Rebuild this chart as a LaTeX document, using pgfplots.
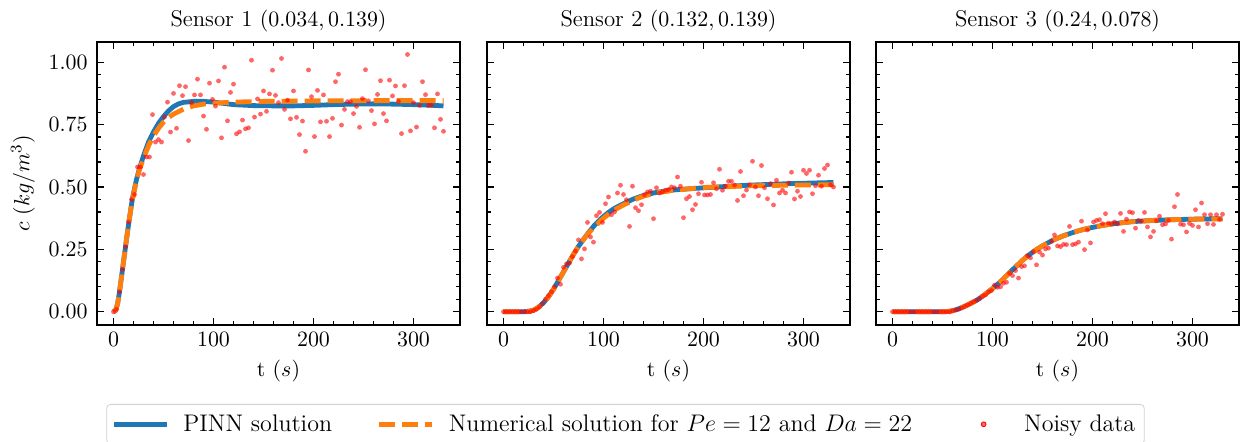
\documentclass[border=0pt]{standalone}
\usepackage{pgfplots}
\pgfplotsset{compat=1.18}
\usepackage{pgfplotstable}
\definecolor{mblue}{HTML}{1F77B4}
\definecolor{morange}{HTML}{FF7F0E}

\pgfplotstableread{
t c1 c2 c3
0 0 0 0
3 0.01 0 0
6 0.08 0 0
9 0.17 0 0
12 0.26 0 0
15 0.36 0 0
18 0.45 0 0
21 0.47 0 0
24 0.58 0 0
27 0.58 0 0
30 0.55 0.005 0
33 0.62 0.01 0
36 0.62 0.02 0
39 0.79 0.033 0
42 0.68 0.05 0
45 0.69 0.065 0
48 0.68 0.08 0
51 0.78 0.1 0
54 0.84 0.135 0
57 0.72 0.11 0
60 0.875 0.178 0.004
63 0.735 0.192 0.007
66 0.906 0.195 0.01
69 0.866 0.221 0.015
72 0.902 0.243 0.021
75 0.686 0.288 0.027
78 0.838 0.212 0.033
81 0.869 0.252 0.04
84 0.932 0.358 0.046
87 0.869 0.30 0.053
90 0.784 0.279 0.062
93 0.731 0.385 0.068
96 0.916 0.398 0.08
99 0.851 0.358 0.085
102 0.824 0.433 0.107
105 0.925 0.46 0.098
108 0.697 0.389 0.10
111 0.98 0.40 0.114
114 0.765 0.476 0.118
117 0.879 0.507 0.154
120 0.912 0.47 0.145
123 0.713 0.449 0.165
126 0.721 0.342 0.135
129 0.768 0.503 0.181
132 0.733 0.417 0.184
135 0.737 0.405 0.225
138 1.008 0.429 0.216
141 0.78 0.469 0.241
144 0.853 0.48 0.188
147 0.792 0.483 0.239
150 0.885 0.373 0.227
153 0.803 0.497 0.252
156 0.873 0.476 0.255
159 0.968 0.48 0.282
162 0.867 0.487 0.308
165 0.838 0.49 0.264
168 1.015 0.50 0.261
171 0.811 0.497 0.27
174 0.848 0.54 0.269
177 0.773 0.503 0.342
180 0.885 0.377 0.269
183 0.779 0.453 0.272
186 0.71 0.462 0.279
189 0.764 0.409 0.363
192 0.643 0.43 0.249
195 0.969 0.473 0.328
198 0.862 0.519 0.276
201 0.702 0.468 0.36
204 0.887 0.468 0.366
207 0.761 0.47 0.369
210 0.869 0.517 0.353
213 0.763 0.493 0.393
216 0.702 0.571 0.355
219 0.775 0.487 0.352
222 0.922 0.503 0.36
225 0.952 0.523 0.352
228 0.748 0.523 0.394
231 0.811 0.508 0.322
234 0.842 0.446 0.371
237 0.842 0.562 0.40
240 0.794 0.465 0.397
243 0.823 0.488 0.335
246 0.739 0.509 0.366
249 0.854 0.603 0.363
252 0.97 0.5 0.398
255 0.845 0.465 0.34
258 0.806 0.586 0.30
261 0.753 0.497 0.322
264 0.871 0.453 0.365
267 0.926 0.513 0.383
270 0.794 0.428 0.349
273 0.765 0.527 0.352
276 0.928 0.476 0.366
279 0.865 0.487 0.291
282 0.905 0.476 0.421
285 0.843 0.516 0.47
288 0.714 0.559 0.351
291 0.906 0.452 0.349
294 1.031 0.483 0.32
297 0.725 0.462 0.354
300 0.838 0.567 0.346
303 0.74 0.554 0.409
306 0.827 0.567 0.34
309 0.922 0.473 0.436
312 0.87 0.505 0.389
315 0.827 0.547 0.353
318 0.827 0.503 0.389
321 0.737 0.574 0.35
324 0.873 0.588 0.389
327 0.771 0.509 0.37
330 0.723 0.5 0.391
}\noisy

\pgfplotsset{
  sensor/.style={
    scale only axis, width=181.5pt, height=141.5pt,
    xmin=-16.5, xmax=346.5, ymin=-0.053, ymax=1.081,
    xtick={0,100,200,300}, ytick={0,0.25,0.5,0.75,1},
    minor x tick num=4, minor y tick num=4,
    tick align=inside, major tick length=3.5pt, minor tick length=2pt,
    axis line style={line width=0.7pt},
    every tick/.style={black, line width=0.6pt},
    yticklabel style={xshift=-1.2pt, /pgf/number format/.cd, fixed, fixed zerofill, precision=2},
    xlabel={t $(s)$},
    title style={yshift=-4.5pt, font=\fontsize{11.4}{13}\selectfont},
  },
  pinn/.style={mblue, line width=2.4pt, line join=round},
  num/.style={morange, line width=2.4pt, dash pattern=on 8pt off 3.5pt},
  mydots/.style={only marks, mark=*, mark size=1.2pt, color=red, mark options={fill=red, fill opacity=0.6, draw opacity=0}},
  mylinelegend/.style={legend image code/.code={\draw[##1] (0pt,0pt) -- (26.5pt,0pt);}},
  mydotlegend/.style={legend image code/.code={\path[draw=none] (0pt,0pt) -- (26.5pt,0pt); \fill[red, fill opacity=0.6] (13.25pt,0pt) circle (1.2pt);}},
}

\begin{document}
\begin{tikzpicture}[font=\fontsize{10.9}{13}\selectfont]
\useasboundingbox (-48.5pt,-58.5pt) rectangle (576pt,162.5pt);

\begin{axis}[sensor, at={(0pt,0pt)}, anchor=south west,
  title={Sensor 1 $(0.034, 0.139)$}, ylabel={$c$ $(kg/m^3)$}]
\addplot[pinn] coordinates {(0,0) (2,0.005) (4,0.03) (6,0.08) (8,0.14) (10,0.2) (12,0.26) (14,0.32) (16,0.375) (18,0.43) (20,0.475) (23,0.53) (26,0.575) (30,0.625) (35,0.68) (40,0.72) (45,0.755) (50,0.782) (55,0.805) (60,0.822) (65,0.833) (70,0.839) (80,0.843) (90,0.843) (100,0.84) (110,0.835) (120,0.83) (140,0.826) (160,0.825) (180,0.825) (200,0.827) (220,0.83) (240,0.832) (260,0.833) (280,0.832) (300,0.83) (320,0.827) (330,0.825)};
\addplot[num] coordinates {(0,0) (2,0.005) (4,0.03) (6,0.08) (8,0.14) (10,0.2) (12,0.26) (14,0.32) (16,0.375) (18,0.43) (20,0.47) (23,0.525) (26,0.57) (30,0.615) (35,0.665) (40,0.705) (45,0.735) (50,0.76) (55,0.778) (60,0.792) (70,0.812) (80,0.825) (90,0.832) (100,0.836) (120,0.84) (150,0.843) (200,0.845) (250,0.846) (330,0.846)};
\addplot[mydots] table[x=t, y=c1] {\noisy};
\end{axis}

\begin{axis}[sensor, at={(195pt,0pt)}, anchor=south west,
  title={Sensor 2 $(0.132, 0.139)$}, yticklabels={},
  legend columns=3,
  legend style={at={(0.3815,-0.279)}, anchor=north, draw=black!18, rounded corners=2pt,
    inner xsep=2.5pt, inner ysep=3pt, font=\fontsize{12}{14}\selectfont,
    /tikz/every odd column/.append style={column sep=5pt},
    /tikz/every even column/.append style={column sep=20.5pt}}]
\addplot[pinn, mylinelegend] coordinates {(0,0) (20,0) (25,0.002) (30,0.006) (35,0.018) (40,0.036) (45,0.06) (50,0.09) (55,0.125) (60,0.16) (65,0.195) (70,0.23) (75,0.262) (80,0.29) (85,0.317) (90,0.342) (95,0.363) (100,0.382) (105,0.398) (110,0.412) (115,0.423) (120,0.433) (130,0.452) (140,0.466) (150,0.476) (160,0.483) (170,0.488) (190,0.494) (210,0.499) (230,0.504) (250,0.508) (270,0.511) (290,0.514) (310,0.516) (330,0.518)};
\addlegendentry{PINN solution}
\addplot[num, mylinelegend] coordinates {(0,0) (20,0) (25,0.002) (30,0.006) (35,0.018) (40,0.036) (45,0.06) (50,0.09) (55,0.125) (60,0.16) (65,0.195) (70,0.23) (75,0.262) (80,0.29) (85,0.315) (90,0.336) (100,0.375) (110,0.406) (120,0.428) (130,0.448) (140,0.463) (150,0.474) (170,0.487) (200,0.498) (250,0.505) (300,0.508) (330,0.509)};
\addlegendentry{Numerical solution for $Pe=12$ and $Da=22$}
\addplot[mydots, mydotlegend] table[x=t, y=c2] {\noisy};
\addlegendentry{Noisy data}
\end{axis}

\begin{axis}[sensor, at={(389.5pt,0pt)}, anchor=south west,
  title={Sensor 3 $(0.24, 0.078)$}, yticklabels={}]
\addplot[pinn] coordinates {(0,0) (50,0) (55,0.001) (60,0.004) (65,0.01) (70,0.018) (75,0.027) (80,0.037) (85,0.048) (90,0.062) (95,0.077) (100,0.093) (105,0.11) (110,0.128) (115,0.148) (120,0.168) (125,0.187) (130,0.206) (135,0.223) (140,0.238) (145,0.252) (150,0.264) (155,0.275) (160,0.286) (170,0.303) (180,0.317) (190,0.329) (200,0.338) (210,0.346) (220,0.352) (230,0.357) (240,0.361) (260,0.366) (280,0.369) (300,0.371) (330,0.373)};
\addplot[num] coordinates {(0,0) (50,0) (55,0.001) (60,0.004) (65,0.01) (70,0.018) (75,0.027) (80,0.037) (85,0.048) (90,0.062) (95,0.077) (100,0.093) (105,0.11) (110,0.128) (115,0.148) (120,0.168) (125,0.187) (130,0.206) (135,0.223) (140,0.238) (145,0.252) (150,0.264) (155,0.275) (160,0.286) (170,0.303) (180,0.317) (190,0.329) (200,0.338) (210,0.346) (220,0.352) (230,0.357) (240,0.361) (260,0.366) (280,0.369) (300,0.371) (330,0.372)};
\addplot[mydots] table[x=t, y=c3] {\noisy};
\end{axis}
\end{tikzpicture}
\end{document}
